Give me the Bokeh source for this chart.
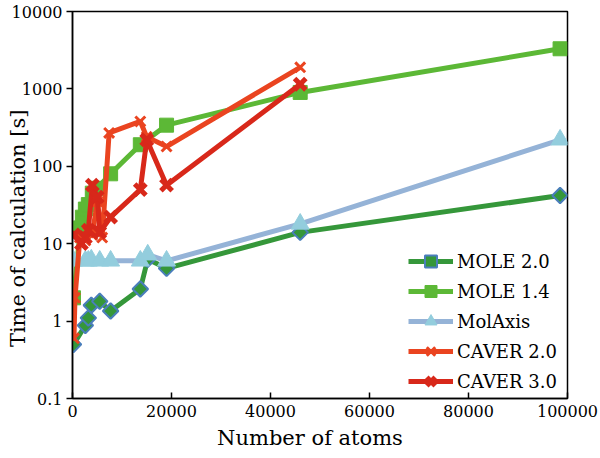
import math
from bokeh.plotting import figure
from bokeh.models import (FixedTicker, CustomJSTickFormatter, Legend, LegendItem,
                          Range1d, BasicTickFormatter)
from bokeh.embed import file_html
from bokeh.resources import INLINE

# ---------------- data ----------------
mole20_atoms = [200, 2600, 3200, 3800, 5500, 7700, 13700, 15200, 19000, 46000, 98500]
mole20_time = [0.5, 0.88, 1.1, 1.6, 1.8, 1.35, 2.6, 6.3, 4.8, 14, 42]

mole14_atoms = [200, 1600, 2000, 2600, 3200, 4000, 5000, 7700, 13700, 19000, 46000, 98500]
mole14_time = [2.0, 16, 22, 28, 32, 45, 52, 80, 190, 340, 900, 3300]

molaxis_atoms = [200, 2600, 3200, 3800, 5500, 7700, 13700, 15200, 19000, 46000, 98500]
molaxis_time = [6.0, 6.0, 6.0, 6.2, 6.0, 6.0, 6.0, 7.2, 6.0, 18, 220]

caver20_atoms = [300, 500, 1500, 2600, 3200, 4000, 5000, 6000, 7400, 13700, 15000, 19000, 46000]
caver20_time = [0.6, 2.0, 12, 11, 14, 13, 35, 12, 270, 380, 240, 180, 1900]

caver30_atoms = [300, 1800, 2600, 3200, 4000, 5000, 5500, 7700, 13700, 15000, 19000, 46000]
caver30_time = [13, 10, 12, 15, 57, 40, 14, 22, 50, 220, 57, 1150]

x_ticks = [0, 20000, 40000, 60000, 80000, 100000]
y_ticks = [0.1, 1, 10, 100, 1000, 10000]

series_names = ["MOLE 2.0", "MOLE 1.4", "MolAxis", "CAVER 2.0", "CAVER 3.0"]

FONT = "DejaVu Serif"
NB = "\u00a0"

# ---------------- figure ----------------
p = figure(width=600, height=458, y_axis_type="log",
           x_range=Range1d(0, 100000), y_range=Range1d(0.1, 10000),
           output_backend="svg", toolbar_location=None,
           min_border_left=72, min_border_right=33, min_border_top=11,
           min_border_bottom=60)
p.background_fill_color = "white"
p.border_fill_color = "white"
p.grid.visible = False
p.outline_line_color = "black"
p.outline_line_width = 1.5

# axes
p.xaxis.ticker = FixedTicker(ticks=x_ticks, minor_ticks=[])
p.xaxis.formatter = BasicTickFormatter(use_scientific=False)
p.xaxis.major_tick_in = 6
p.xaxis.major_tick_out = 0
p.xaxis.minor_tick_line_color = None
p.xaxis.major_label_standoff = 6
p.xaxis.axis_label = "Number of atoms" + NB * 3
p.xaxis.axis_label_standoff = 6

p.yaxis.ticker = FixedTicker(ticks=y_ticks, minor_ticks=[])
p.yaxis.formatter = CustomJSTickFormatter(code="return String(tick)")
p.yaxis.major_tick_in = 0
p.yaxis.major_tick_out = 6
p.yaxis.minor_tick_line_color = None
p.yaxis.major_label_standoff = 4
p.yaxis.axis_label = "Time of calculation [s]" + NB * 7
p.yaxis.axis_label_standoff = -21

for ax in (p.xaxis, p.yaxis):
    ax.axis_line_color = "black"
    ax.axis_line_width = 1.5
    ax.major_tick_line_color = "black"
    ax.major_tick_line_width = 1.5
    ax.major_label_text_font = FONT
    ax.major_label_text_font_size = "16px"
    ax.major_label_text_color = "black"
    ax.axis_label_text_font = FONT
    ax.axis_label_text_font_size = "21px"
    ax.axis_label_text_font_style = "normal"
    ax.axis_label_text_color = "black"

# ---------------- series ----------------
items = []

l1 = p.line(mole20_atoms, mole20_time, line_color="#35973A", line_width=5)
s1 = p.scatter(mole20_atoms, mole20_time, marker="square", angle=math.pi / 4,
               size=11, fill_color="#35973A", line_color="#4A7EBB", line_width=2)
items.append(LegendItem(label=series_names[0], renderers=[l1, s1]))

l2 = p.line(mole14_atoms, mole14_time, line_color="#5CB836", line_width=5)
s2 = p.scatter(mole14_atoms, mole14_time, marker="square", size=14,
               fill_color="#5CB836", line_color="#5CB836")
items.append(LegendItem(label=series_names[1], renderers=[l2, s2]))

l3 = p.line(molaxis_atoms, molaxis_time, line_color="#95B3D7", line_width=5)
s3 = p.scatter(molaxis_atoms, molaxis_time, marker="triangle", size=18,
               fill_color="#93CDDD", line_color="#93CDDD")
items.append(LegendItem(label=series_names[2], renderers=[l3, s3]))

l4 = p.line(caver20_atoms, caver20_time, line_color="#EA4420", line_width=5)
s4 = p.scatter(caver20_atoms, caver20_time, marker="x", size=14,
               line_color="#EA4420", line_width=3)
items.append(LegendItem(label=series_names[3], renderers=[l4, s4]))

l5 = p.line(caver30_atoms, caver30_time, line_color="#D8281A", line_width=5)
s5 = p.scatter(caver30_atoms, caver30_time, marker="x", size=16,
               line_color="#D8281A", line_width=5)
items.append(LegendItem(label=series_names[4], renderers=[l5, s5]))

legend = Legend(items=items, location=(336, 2), orientation="vertical",
                glyph_width=45, glyph_height=30, label_height=30, spacing=0,
                padding=0, margin=0, label_standoff=4,
                label_text_font=FONT, label_text_font_size="18px",
                label_text_color="black",
                border_line_color=None, background_fill_alpha=0)
p.add_layout(legend)

open("out.html", "w").write(file_html(p, INLINE))
